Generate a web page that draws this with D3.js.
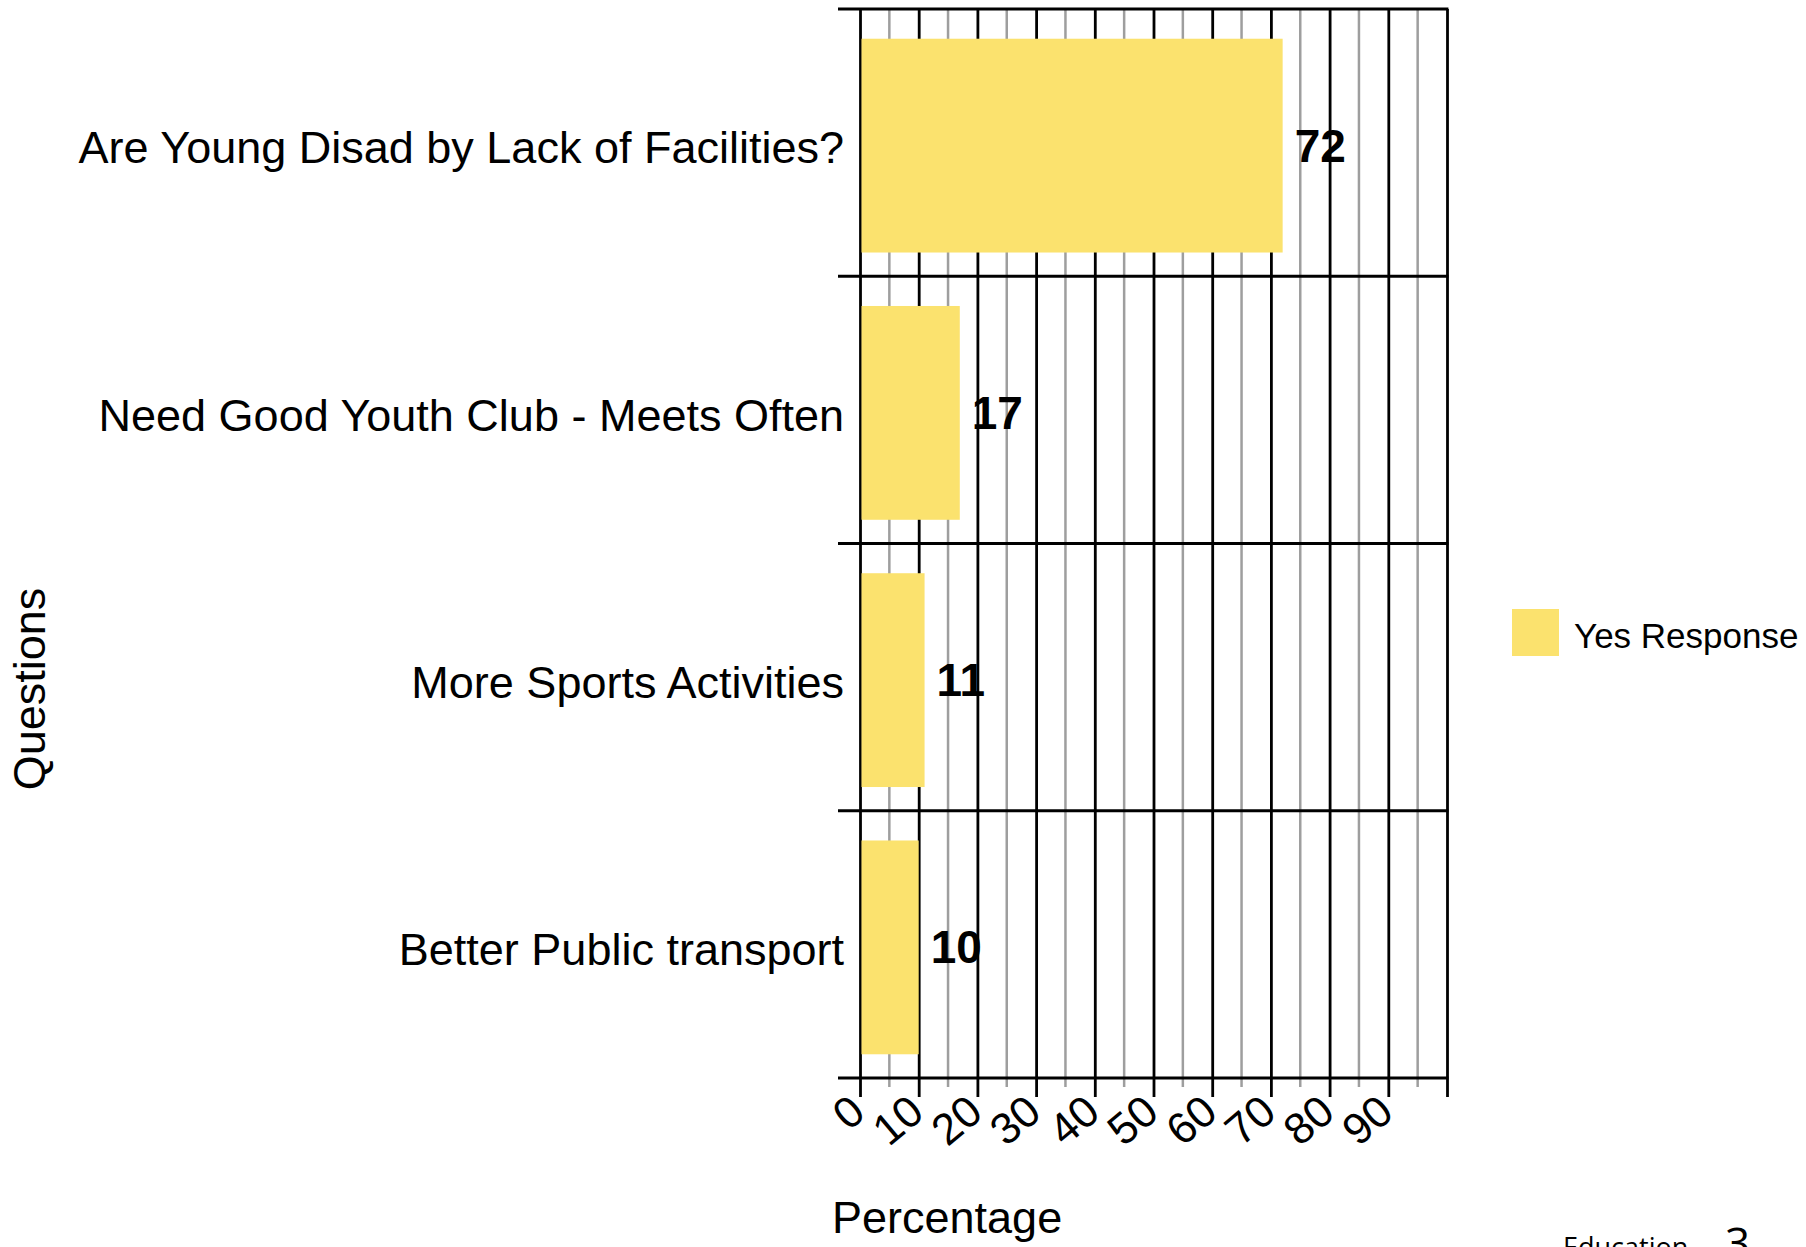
<!DOCTYPE html>
<html>
<head>
<meta charset="utf-8">
<script src="https://cdn.jsdelivr.net/npm/d3@7"></script>
<style>
  body { margin: 0; background: #fff; }
  svg { display: block; font-family: "Liberation Sans", Arial, sans-serif; }
</style>
</head>
<body>
<div id="chart"></div>
<script>
// data
const categories = [
    "Are Young Disad by Lack of Facilities?",
    "Need Good Youth Club - Meets Often",
    "More Sports Activities",
    "Better Public transport"
];
const yesValues = [72, 17, 11, 10];
const majorTicks = [0, 10, 20, 30, 40, 50, 60, 70, 80, 90, 100];
const minorTicks = [5, 15, 25, 35, 45, 55, 65, 75, 85, 95];
const tickLabels = ["0", "10", "20", "30", "40", "50", "60", "70", "80", "90", ""];
const seriesName = "Yes Response";

const W = 1806, H = 1247;
const BAR = "#fbe26e", GRID = "#9e9e9e";

const svg = d3.select("#chart").append("svg")
    .attr("width", W)
    .attr("height", H);

// scales
const x = d3.scaleLinear().domain([0, 100]).range([860, 1447]);
const y = d3.scaleBand().domain(categories).range([9, 1078]).paddingInner(0.2).paddingOuter(0.1);
const axisY = 1078;

// minor grid (grey) with short ticks under axis
svg.append("g").selectAll("line")
    .data(minorTicks)
    .join("line")
    .attr("x1", d => x(d)).attr("x2", d => x(d))
    .attr("y1", 9).attr("y2", axisY + 9)
    .attr("stroke", GRID)
    .attr("stroke-width", 2.5);

// major grid (black) via axis ticks
const xAxis = svg.append("g")
    .attr("transform", "translate(0," + axisY + ")")
    .call(d3.axisBottom(x)
        .tickValues(majorTicks)
        .tickSize(19)
        .tickFormat((d, i) => tickLabels[i]));
xAxis.select(".domain").remove();
xAxis.selectAll(".tick line")
    .attr("y1", -(axisY - 9))
    .attr("stroke", "#000")
    .attr("stroke-width", 2.8);
xAxis.selectAll(".tick text")
    .attr("font-family", "'Liberation Sans', Arial, sans-serif")
    .attr("font-size", 44)
    .attr("fill", "#000")
    .attr("text-anchor", "end")
    .attr("y", 0)
    .attr("dy", 0)
    .attr("transform", "translate(7,38) rotate(-40)");

// horizontal lines between categories
const step = y.step(), gap = step - y.bandwidth();
const bounds = categories.map(c => y(c) - gap / 2).concat([y(categories[categories.length - 1]) + y.bandwidth() + gap / 2]);
svg.append("g").selectAll("line")
    .data(bounds)
    .join("line")
    .attr("x1", 838).attr("x2", x(100) + 1.4)
    .attr("y1", d => d).attr("y2", d => d)
    .attr("stroke", "#000")
    .attr("stroke-width", 2.8);

// bars
svg.append("g").selectAll("rect")
    .data(yesValues)
    .join("rect")
    .attr("x", x(0) + 1.5)
    .attr("y", (d, i) => y(categories[i]) + 3)
    .attr("width", d => x(d) - x(0) - 1.5)
    .attr("height", y.bandwidth())
    .attr("fill", BAR);

// value labels
svg.append("g").selectAll("text")
    .data(yesValues)
    .join("text")
    .attr("x", d => x(d) + 12)
    .attr("y", (d, i) => y(categories[i]) + 3 + y.bandwidth() / 2)
    .attr("dy", "0.35em")
    .attr("font-size", 46)
    .attr("font-weight", "bold")
    .attr("fill", "#000")
    .text(d => d);

// category labels
svg.append("g").selectAll("text")
    .data(categories)
    .join("text")
    .attr("x", 844)
    .attr("y", d => y(d) + y.bandwidth() / 2 + 5)
    .attr("dy", "0.35em")
    .attr("text-anchor", "end")
    .attr("font-size", 45)
    .attr("fill", "#000")
    .text(d => d);

// axis titles
svg.append("text")
    .attr("x", 832).attr("y", 1233)
    .attr("font-size", 45)
    .attr("fill", "#000")
    .text("Percentage");

svg.append("text")
    .attr("transform", "translate(45,689) rotate(-90)")
    .attr("text-anchor", "middle")
    .attr("font-size", 45)
    .attr("fill", "#000")
    .text("Questions");

// legend
svg.append("rect")
    .attr("x", 1512).attr("y", 609)
    .attr("width", 47).attr("height", 47)
    .attr("fill", BAR);
svg.append("text")
    .attr("x", 1574).attr("y", 648)
    .attr("font-size", 35)
    .attr("fill", "#000")
    .text(seriesName);

// footer bits, cut off at the bottom edge as in the source
svg.append("text")
    .attr("x", 1563).attr("y", 1257)
    .attr("font-family", "'Open Sans', sans-serif")
    .attr("font-size", 27)
    .attr("fill", "#000")
    .text("Education");
svg.append("text")
    .attr("x", 1725).attr("y", 1259)
    .attr("font-family", "'Open Sans', sans-serif")
    .attr("font-size", 44)
    .attr("fill", "#000")
    .text("3");
</script>
</body>
</html>
